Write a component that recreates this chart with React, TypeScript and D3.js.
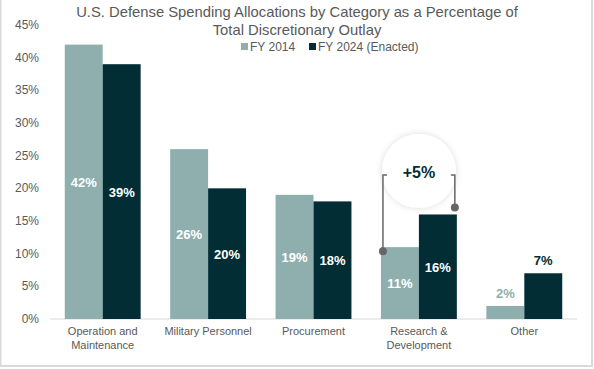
import * as d3 from "d3";

const W = 594;
const H = 369;
const M = { top: 25, right: 17, bottom: 50, left: 50 };

const categories = [
  "Operation and\nMaintenance",
  "Military Personnel",
  "Procurement",
  "Research &\nDevelopment",
  "Other",
];
const fy2014 = [42, 26, 19, 11, 2];
const fy2024 = [39, 20, 18, 16, 7];
const seriesNames = ["FY 2014", "FY 2024 (Enacted)"];
const yTicks = [0, 5, 10, 15, 20, 25, 30, 35, 40, 45];

const LIGHT = "#8FAFAF";
const DARK = "#022D35";
const TEXT = "#595959";

export default function App() {
  const x = d3
    .scaleBand<string>()
    .domain(categories)
    .range([M.left, W - M.right])
    .paddingInner(0.28)
    .paddingOuter(0.14);
  const sub = d3.scaleBand<number>().domain([0, 1]).range([0, x.bandwidth()]);
  const y = d3.scaleLinear().domain([0, 45]).range([H - M.bottom, M.top]);
  const series = [fy2014, fy2024];
  const colors = [LIGHT, DARK];
  const font = "'Liberation Sans', Arial, sans-serif";

  // R&D annotation
  const rd = categories[3];
  const lx = x(rd)! + 2;
  const rx = x(rd)! + x.bandwidth() - 2;
  const topY = 175;
  const cx = x(rd)! + x.bandwidth() / 2;

  return (
    <svg
      width={W}
      height={H}
      style={{ position: "absolute", left: 0, top: 0, fontFamily: font }}
    >
      <defs>
        <filter id="sh" x="-50%" y="-50%" width="200%" height="200%">
          <feDropShadow dx="0" dy="0" stdDeviation="3" floodColor="#000" floodOpacity="0.15" />
        </filter>
      </defs>
      <rect x={0} y={0} width={W} height={H} fill="#fff" />
      <rect x={0.5} y={-2} width={591.5} height={368} fill="none" stroke="#d9d9d9" strokeWidth={2} />

      <text x={297} y={17} textAnchor="middle" fontSize={14.8} fill={TEXT}>
        U.S. Defense Spending Allocations by Category as a Percentage of
      </text>
      <text x={297} y={35} textAnchor="middle" fontSize={14.8} fill={TEXT}>
        Total Discretionary Outlay
      </text>

      {/* legend */}
      {seriesNames.map((s, i) => {
        const lxp = i === 0 ? 241 : 309;
        return (
          <g key={s}>
            <rect x={lxp} y={43} width={7} height={7} fill={colors[i]} />
            <text x={lxp + 9} y={51} fontSize={12} fill={TEXT}>
              {s}
            </text>
          </g>
        );
      })}

      {/* y axis */}
      {yTicks.map((t) => (
        <text key={t} x={39} y={y(t) + 4} textAnchor="end" fontSize={12} fill={TEXT}>
          {t}%
        </text>
      ))}
      <line x1={M.left} x2={W - M.right} y1={y(0)} y2={y(0)} stroke="#d9d9d9" strokeWidth={1} />

      {/* bars */}
      {categories.map((c, ci) =>
        series.map((vals, si) => {
          const v = vals[ci];
          const bx = x(c)! + sub(si)!;
          const bw = sub.bandwidth();
          const inside = v >= 10;
          const ly = inside ? (y(v) + y(0)) / 2 + 5 : y(v) - 8;
          return (
            <g key={c + si}>
              <rect x={bx} y={y(v)} width={bw} height={y(0) - y(v)} fill={colors[si]} />
              <text
                x={bx + bw / 2}
                y={ly}
                textAnchor="middle"
                fontSize={13}
                fontWeight="bold"
                fill={inside ? "#fff" : colors[si]}
              >
                {v}%
              </text>
            </g>
          );
        })
      )}

      {/* category labels */}
      {categories.map((c) =>
        c.split("\n").map((line, li) => (
          <text
            key={c + li}
            x={x(c)! + x.bandwidth() / 2}
            y={335 + li * 14}
            textAnchor="middle"
            fontSize={11}
            fill={TEXT}
          >
            {line}
          </text>
        ))
      )}

      {/* annotation */}
      <circle cx={cx} cy={171} r={37} fill="#fff" filter="url(#sh)" />
      <path
        d={`M${lx + 4},${topY} H${lx} V${y(fy2014[3]) + 4}`}
        fill="none"
        stroke="#666"
        strokeWidth={1.5}
      />
      <path
        d={`M${rx - 4},${topY} H${rx} V${y(fy2024[3]) - 7}`}
        fill="none"
        stroke="#666"
        strokeWidth={1.5}
      />
      <circle cx={lx} cy={y(fy2014[3]) + 4} r={4} fill="#666" />
      <circle cx={rx} cy={y(fy2024[3]) - 7} r={4} fill="#666" />
      <text x={cx} y={178} textAnchor="middle" fontSize={16} fontWeight="bold" fill={DARK}>
        +5%
      </text>
    </svg>
  );
}
